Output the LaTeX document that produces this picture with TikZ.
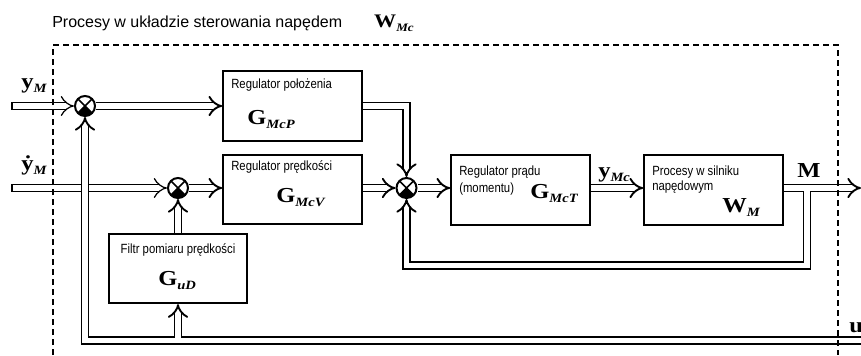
\documentclass[tikz,border=0pt]{standalone}
\usepackage{fontspec}
\setmainfont{Liberation Sans}
\newfontfamily\boxfont[FakeStretch=0.85]{Liberation Sans}
\newfontfamily\symfont[FakeStretch=1.15]{Liberation Serif}
\usetikzlibrary{arrows.meta}
\newcommand{\blk}[2]{{\symfont\bfseries\fontsize{16}{16}\selectfont #1}\raisebox{-3.5pt}{\symfont\bfseries\itshape\fontsize{9.5}{9.5}\selectfont #2}}

\begin{document}
\begin{tikzpicture}[x=0.75pt, y=-0.75pt,
  block/.style={draw, line width=1.5pt, minimum width=104pt, minimum height=52pt, inner sep=0pt},
  sum/.style={draw, circle, line width=1.5pt, minimum size=15pt, inner sep=0pt},
  pipe/.style={double, line width=1.4pt, double distance=3.8pt},
  inpipe/.style={double, line width=0.9pt, double distance=4.4pt},
  txt/.style={font=\boxfont\fontsize{10}{11}\selectfont, anchor=base west, inner sep=0pt},
  sym/.style={anchor=base west, inner sep=0pt},
  border/.style={line width=0.8pt, dash pattern=on 4.5pt off 3pt},
  >={Implies[scale=1.25]}]

\useasboundingbox (0,0) rectangle (861,355);

%blocks
\node[block] (box1) at (292.5,106) {};
\node[block] (box2) at (292.5,189.5) {};
\node[block] (filter) at (178,268.5) {};
\node[block] (box3) at (520.5,190) {};
\node[block] (box4) at (713.5,190) {};

%summing points
\node[sum] (s1) at (85,106) {};
\node[sum] (s2) at (178,188) {};
\node[sum] (s3) at (406.5,188) {};
\foreach \s in {s1, s2, s3}
{
	\fill (\s.center) -- +(-45:7.5pt) arc[start angle=-45, end angle=-135, radius=7.5pt] -- cycle;
	\draw[line width=1.1pt] (\s.center) +(45:7.5pt) -- +(-135:7.5pt) +(135:7.5pt) -- +(-45:7.5pt);
}

%signals
\coordinate (yin) at (12,106);
\coordinate (ydin) at (12,188);
\coordinate (out) at (861,188);
\coordinate (uin) at (861,340.5);
\coordinate (tapM) at (807,188);
\coordinate (fbM) at (807,265.5);
\coordinate (tapU) at (178,340.5);

\draw[inpipe, ->] (yin) -- (s1.west);
\draw[inpipe, ->] (ydin) -- (s2.west);
\draw[line width=0.8pt] ([yshift=3pt]yin) -- ([yshift=-3pt]yin);
\draw[line width=0.8pt] ([yshift=3pt]ydin) -- ([yshift=-3pt]ydin);
\draw[pipe, ->] (s1.east) -- (box1.west |- s1);
\draw[pipe, ->] (box1.east) -| (s3.north);
\draw[pipe, ->] (s2.east) -- (box2.west |- s2);
\draw[pipe, ->] (box2.east |- s3) -- (s3.west);
\draw[pipe, ->] (filter.north) -- (s2.south);
\draw[pipe, ->] (s3.east) -- (box3.west |- s3);
\draw[pipe, ->] (box3.east |- s3) -- (box4.west |- s3);
\draw[pipe, <->] (box4.east |- s3) -- (tapM) (s3.south) |- (fbM) -- (tapM) -- (out);
\draw[pipe, <->] (uin) -- (tapU) (s1.south) |- (tapU) -- (filter.south);

%labels
\node[anchor=base west, inner sep=0pt, font=\fontsize{12}{12}\selectfont] (title) at (52,27) {Procesy w układzie sterowania napędem};
\node[sym, scale=0.9] (WMc) at (374,27) {\blk{W}{Mc}};
\node[sym] (yM) at (21,88) {\blk{y}{M}};
\node[sym] (ydM) at (21,170) {\blk{\.y}{M}};
\node[txt] (t1) at (231,88) {Regulator położenia};
\node[sym] (g1) at (247,124) {\blk{G}{McP}};
\node[txt] (t2) at (231,170) {Regulator prędkości};
\node[sym] (g2) at (276,202) {\blk{G}{McV}};
\node[txt, anchor=base] (t5) at (178,253) {Filtr pomiaru prędkości};
\node[sym] (g5) at (158,285) {\blk{G}{uD}};
\node[txt] (t3) at (459,175) {Regulator prądu};
\node[txt] (t3b) at (459,192) {(momentu)};
\node[sym] (g3) at (530,198) {\blk{G}{McT}};
\node[sym] (yMc) at (598,177) {\blk{y}{Mc}};
\node[txt] (t4) at (652,175) {Procesy w silniku};
\node[txt] (t4b) at (652,190) {napędowym};
\node[sym] (g4) at (722,212) {\blk{W}{M}};
\node[sym] (M) at (797,177) {{\symfont\bfseries\fontsize{16}{16}\selectfont M}};
\node[sym] (u) at (849,332) {{\symfont\bfseries\fontsize{16}{16}\selectfont u}};

%boundary
\draw[border] (53,355) -- (53,45) -- (838,45) -- (838,355);

\end{tikzpicture}
\end{document}
